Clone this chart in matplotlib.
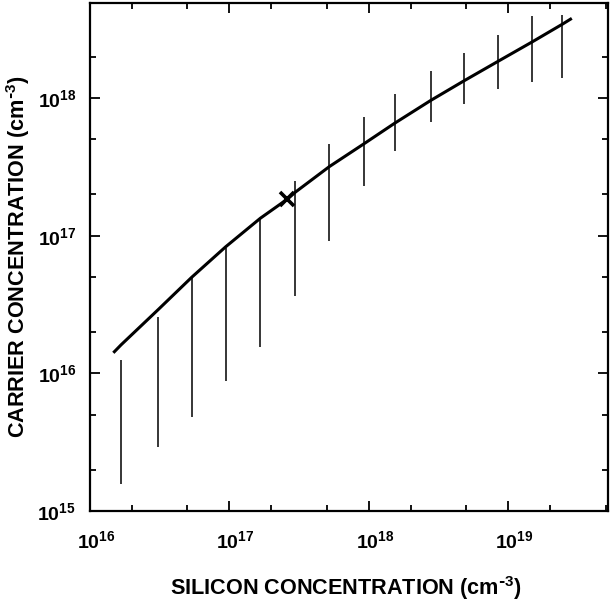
import numpy as np
from matplotlib import pyplot as plt
from matplotlib.ticker import LogLocator, FuncFormatter, NullFormatter
from matplotlib.transforms import ScaledTranslation

# solid curve: silicon concentration vs carrier concentration (cm^-3)
curve_si = [1.47e16, 1.67e16, 3.08e16, 5.37e16, 9.4e16, 1.67e17, 2.6e17, 2.97e17,
            5.2e17, 9.2e17, 1.53e18, 2.78e18, 4.8e18, 8.4e18, 1.49e19, 2.45e19, 2.86e19]
curve_n = [1.41e16, 1.61e16, 2.9e16, 4.99e16, 8.3e16, 1.34e17, 1.84e17, 2.07e17,
           3.17e17, 4.64e17, 6.55e17, 9.6e17, 1.33e18, 1.84e18, 2.56e18, 3.44e18, 3.79e18]

# vertical bars (range of measured carrier concentration)
bar_si = [1.67e16, 3.08e16, 5.37e16, 9.4e16, 1.67e17, 2.97e17, 5.2e17,
          9.2e17, 1.53e18, 2.78e18, 4.8e18, 8.4e18, 1.49e19, 2.45e19]
bar_top = [1.25e16, 2.58e16, 4.91e16, 8.1e16, 1.34e17, 2.5e17, 4.6e17,
           7.24e17, 1.07e18, 1.57e18, 2.11e18, 2.87e18, 3.94e18, 4.0e18]
bar_bot = [1.57e15, 2.94e15, 4.8e15, 8.85e15, 1.56e16, 3.65e16, 9.2e16,
           2.31e17, 4.12e17, 6.75e17, 9.0e17, 1.16e18, 1.31e18, 1.39e18]

# the single marked point
mark_si = [2.6e17]
mark_n = [1.84e17]

plt.rcParams['font.family'] = ['Liberation Sans', 'DejaVu Sans']
plt.rcParams['font.weight'] = 'bold'
plt.rcParams['mathtext.default'] = 'regular'

fig = plt.figure(figsize=(6.1, 6.02), dpi=100)
ax = fig.add_axes([90/610, 91/602, 518/610, 508/602])

ax.vlines(bar_si, bar_bot, bar_top, colors='black', linewidth=1.1)
ax.plot(curve_si, curve_n, color='black', linewidth=2.2, solid_capstyle='butt')
ax.plot(mark_si, mark_n, linestyle='none', marker='x', color='black',
        markersize=10, markeredgewidth=2.6)

ax.set_xscale('log')
ax.set_yscale('log')
ax.set_xlim(1e16, 5.2e19)
ax.set_ylim(1e15, 4.9e18)

def pow_label(v, p):
    return '$10^{%d}$' % round(np.log10(v))

for axis in (ax.xaxis, ax.yaxis):
    axis.set_major_locator(LogLocator(base=10))
    axis.set_minor_locator(LogLocator(base=10, subs=(2, 5)))
    axis.set_minor_formatter(NullFormatter())
    axis.set_major_formatter(FuncFormatter(pow_label))

ax.tick_params(which='both', direction='in', top=True, right=True, width=1.3)
ax.tick_params(which='major', length=7)
ax.tick_params(which='minor', length=4)
ax.tick_params(axis='x', which='major', pad=14, labelsize=14)
ax.tick_params(axis='y', which='major', pad=10, labelsize=14)

for s in ax.spines.values():
    s.set_linewidth(1.6)

ax.set_xlabel(r'SILICON CONCENTRATION (cm$^{\text{-}3}$)', fontsize=15.6, fontweight='bold')
ax.set_ylabel(r'CARRIER CONCENTRATION (cm$^{\text{-}3}$)', fontsize=15.6, fontweight='bold')
ax.xaxis.set_label_coords(0.494, -0.124)
ax.yaxis.set_label_coords(-0.112, 0.5)

# the "10" sits over the tick, exponent hangs to the right
fig.canvas.draw()
shift = ScaledTranslation(6/100, 0, fig.dpi_scale_trans)
for t in ax.xaxis.get_major_ticks():
    t.label1.set_transform(t.label1.get_transform() + shift)

fig.savefig('out.png', dpi=100)
